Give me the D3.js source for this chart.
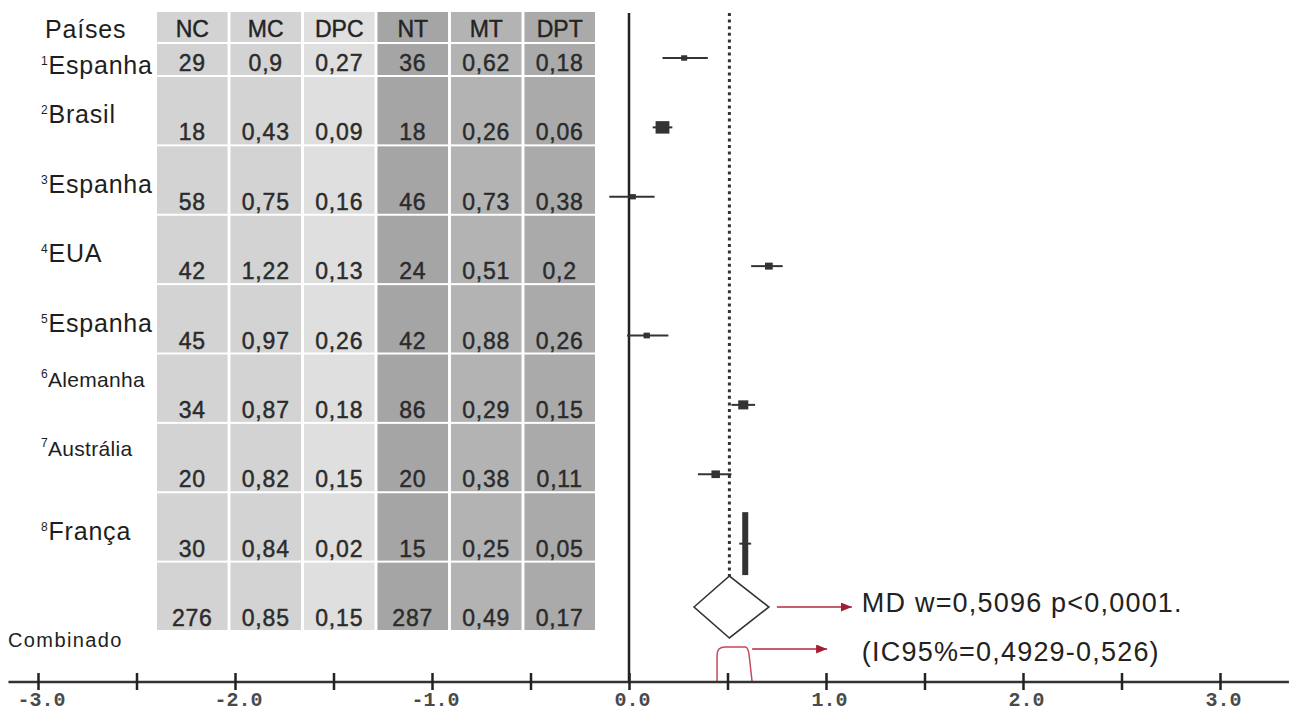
<!DOCTYPE html>
<html>
<head>
<meta charset="utf-8">
<script src="https://cdn.jsdelivr.net/npm/d3@7"></script>
<style>
  body { margin: 0; background: #fff; }
  text { font-family: "Liberation Sans", Arial, sans-serif; }
  .grosso { stroke: #2b2b2b; stroke-width: 0.45px; }
</style>
</head>
<body>
<svg id="chart"></svg>
<script>
// dados
const paises = ["Espanha", "Brasil", "Espanha", "EUA", "Espanha", "Alemanha", "Austrália", "França"];
const colunas = ["NC", "MC", "DPC", "NT", "MT", "DPT"];
const NC  = [29, 18, 58, 42, 45, 34, 20, 30, 276];
const MC  = [0.9, 0.43, 0.75, 1.22, 0.97, 0.87, 0.82, 0.84, 0.85];
const DPC = [0.27, 0.09, 0.16, 0.13, 0.26, 0.18, 0.15, 0.02, 0.15];
const NT  = [36, 18, 46, 24, 42, 86, 20, 15, 287];
const MT  = [0.62, 0.26, 0.73, 0.51, 0.88, 0.29, 0.38, 0.25, 0.49];
const DPT = [0.18, 0.06, 0.38, 0.2, 0.26, 0.15, 0.11, 0.05, 0.17];

// diferenca de medias por estudo
const md    = [0.28, 0.17, 0.02, 0.71, 0.09, 0.58, 0.44, 0.59];
const icInf = [0.17, 0.12, -0.10, 0.62, -0.01, 0.52, 0.35, 0.56];
const icSup = [0.40, 0.22, 0.13, 0.78, 0.20, 0.64, 0.52, 0.62];
const pesos = [3.0, 15.6, 2.8, 4.9, 3.3, 8.3, 5.9, 56.2];

const mdCombinado = 0.5096;
const diamante = [0.33, 0.71];
const colchete = [0.447, 0.625];
const textoMD = "MD w=0,5096 p<0,0001.";
const textoIC = "(IC95%=0,4929-0,526)";

const ticks = [-3, -2.5, -2, -1.5, -1, -0.5, 0, 0.5, 1, 1.5, 2, 2.5, 3];
const eixoExtremos = [-3.15, 3.35];

const tabela = { NC: NC, MC: MC, DPC: DPC, NT: NT, MT: MT, DPT: DPT };
const corColuna = { NC: "#d3d3d3", MC: "#d3d3d3", DPC: "#dfdfdf", NT: "#a5a5a5", MT: "#b3b3b3", DPT: "#aaaaaa" };

const width = 1295, height = 711;
const svg = d3.select("#chart").attr("width", width).attr("height", height);

const x = d3.scaleLinear().domain([-3, 3]).range([38, 1220]);
const col = d3.scaleBand().domain(colunas).range([157, 595]).paddingInner(0.04);
const row = d3.scalePoint().domain(d3.range(9)).range([63, 618]);
const eixoY = 682;
const red = "#b5283b";
const fmt = v => String(v).replace(".", ",");

// ---- tabela ----
const gTab = svg.append("g");

colunas.forEach(c => {
  gTab.append("rect")
    .attr("x", col(c)).attr("y", 12)
    .attr("width", col.bandwidth()).attr("height", 30)
    .attr("fill", corColuna[c]);
  gTab.append("text")
    .attr("class", "grosso")
    .attr("x", col(c) + col.bandwidth() / 2).attr("y", 37)
    .attr("text-anchor", "middle")
    .attr("font-size", 23).attr("fill", "#222")
    .text(c);

  gTab.selectAll(null)
    .data(tabela[c])
    .join("rect")
      .attr("x", col(c))
      .attr("y", (d, i) => i === 0 ? 44 : row(i - 1) + 14)
      .attr("width", col.bandwidth())
      .attr("height", (d, i) => row(i) + 12 - (i === 0 ? 44 : row(i - 1) + 14))
      .attr("fill", corColuna[c]);

  gTab.selectAll(null)
    .data(tabela[c])
    .join("text")
      .attr("class", "grosso")
      .attr("x", col(c) + col.bandwidth() / 2)
      .attr("y", (d, i) => row(i) + 8)
      .attr("text-anchor", "middle")
      .attr("font-size", 23)
      .attr("letter-spacing", 0.8)
      .attr("fill", "#2b2b2b")
      .text(fmt);
});

// rotulos de paises
svg.append("text")
  .attr("x", 45).attr("y", 38)
  .attr("font-size", 25).attr("fill", "#1e1e1e")
  .attr("letter-spacing", 0.8)
  .text("Países");

const small = n => n.length > 7 && n !== "Espanha";
const rot = svg.append("g").selectAll("text")
  .data(paises)
  .join("text")
    .attr("x", 41)
    .attr("y", (d, i) => row(i) + 9 + (i === 0 ? 2 : small(d) ? -32 : -18))
    .attr("fill", "#1e1e1e")
    .attr("font-size", d => small(d) ? 21 : 25)
    .attr("letter-spacing", d => small(d) ? 0.3 : 0.8);
rot.append("tspan")
  .attr("font-size", 12)
  .attr("dy", -9)
  .text((d, i) => i + 1);
rot.append("tspan")
  .attr("dy", 9)
  .text(d => d);

svg.append("text")
  .attr("x", 8).attr("y", 647)
  .attr("font-size", 20).attr("letter-spacing", 1.4)
  .attr("fill", "#222")
  .text("Combinado");

// ---- grafico de floresta ----
const gF = svg.append("g");

// linha do zero
gF.append("line")
  .attr("x1", x(0)).attr("x2", x(0))
  .attr("y1", 13).attr("y2", eixoY)
  .attr("stroke", "#222").attr("stroke-width", 2.5);

const yDiam = row(8) - 11;
// linha pontilhada do efeito combinado
gF.append("line")
  .attr("x1", x(mdCombinado)).attr("x2", x(mdCombinado))
  .attr("y1", 13).attr("y2", yDiam - 31)
  .attr("stroke", "#333").attr("stroke-width", 3)
  .attr("stroke-dasharray", "3,3.6");

const estudos = md.map((m, i) => ({ m: m, lo: icInf[i], hi: icSup[i], w: pesos[i], i: i }));
const lado = d3.scaleSqrt().domain([0, 16]).range([0, 14]);

gF.selectAll("line.ic")
  .data(estudos)
  .join("line")
    .attr("class", "ic")
    .attr("x1", d => x(d.lo)).attr("x2", d => x(d.hi))
    .attr("y1", d => row(d.i) - 5).attr("y2", d => row(d.i) - 5)
    .attr("stroke", "#333").attr("stroke-width", 2);

gF.selectAll("rect.peso")
  .data(estudos)
  .join("rect")
    .attr("class", "peso")
    .each(function(d) {
      const alto = d.w > 30;
      const bw = alto ? 6 : lado(d.w);
      const bh = alto ? d.w * 1.12 : lado(d.w) * 0.9;
      d3.select(this)
        .attr("x", x(d.m) - bw / 2)
        .attr("y", row(d.i) - 5 - bh / 2)
        .attr("width", bw).attr("height", bh);
    })
    .attr("fill", "#333");

// diamante
gF.append("path")
  .attr("d", d3.line()([
    [x(diamante[0]), yDiam], [x(mdCombinado), yDiam - 31],
    [x(diamante[1]), yDiam], [x(mdCombinado), yDiam + 31]
  ]) + "Z")
  .attr("fill", "#fff").attr("stroke", "#333").attr("stroke-width", 1.6);

// setas vermelhas
svg.append("defs").append("marker")
  .attr("id", "seta")
  .attr("markerUnits", "userSpaceOnUse")
  .attr("markerWidth", 11).attr("markerHeight", 9)
  .attr("refX", 11).attr("refY", 4.5)
  .attr("orient", "auto")
  .append("path")
    .attr("d", "M0,0L11,4.5L0,9Z")
    .attr("fill", "#a51d33");

const xDir = x(diamante[1]);
gF.append("line")
  .attr("x1", xDir + 8).attr("x2", xDir + 83)
  .attr("y1", yDiam).attr("y2", yDiam)
  .attr("stroke", red).attr("stroke-width", 1.5)
  .attr("marker-end", "url(#seta)");

const yCol = 647;
gF.append("path")
  .attr("d", `M${x(colchete[0])},${eixoY} L${x(colchete[0])},${yCol + 8}
    Q${x(colchete[0])},${yCol} ${x(colchete[0]) + 8},${yCol}
    L${x(colchete[1]) - 7},${yCol} Q${x(colchete[1]) - 4},${yCol} ${x(colchete[1]) - 3},${yCol + 8}
    L${x(colchete[1])},${eixoY}`)
  .attr("fill", "none").attr("stroke", "#c8485a").attr("stroke-width", 1.5);

gF.append("line")
  .attr("x1", x(colchete[1])).attr("x2", x(colchete[1]) + 75)
  .attr("y1", yCol + 2).attr("y2", yCol + 2)
  .attr("stroke", red).attr("stroke-width", 1.5)
  .attr("marker-end", "url(#seta)");

gF.append("text")
  .attr("x", xDir + 93).attr("y", yDiam + 5)
  .attr("font-size", 27).attr("letter-spacing", 1.2)
  .attr("fill", "#222")
  .text(textoMD);

gF.append("text")
  .attr("x", xDir + 93).attr("y", yCol + 14)
  .attr("font-size", 27).attr("letter-spacing", 1.2)
  .attr("fill", "#222")
  .text(textoIC);

// ---- eixo ----
const gAx = svg.append("g")
  .attr("transform", `translate(0,${eixoY})`)
  .call(d3.axisBottom(x)
    .tickValues(ticks)
    .tickSize(8)
    .tickPadding(2)
    .tickFormat(d => Number.isInteger(d) ? d.toFixed(1) : ""));

gAx.select(".domain").remove();
gAx.insert("line", ":first-child")
  .attr("x1", x(eixoExtremos[0])).attr("x2", x(eixoExtremos[1]))
  .attr("stroke", "#333").attr("stroke-width", 2.5);
gAx.selectAll(".tick line")
  .attr("y1", -9).attr("y2", 8)
  .attr("stroke", "#222").attr("stroke-width", 2.5);
gAx.selectAll(".tick text")
  .attr("dx", 3)
  .attr("fill", "#4a4a4a")
  .style("font-family", "'Liberation Mono', 'DejaVu Sans Mono', monospace")
  .style("font-weight", "bold")
  .style("font-size", "20px");
</script>
</body>
</html>
